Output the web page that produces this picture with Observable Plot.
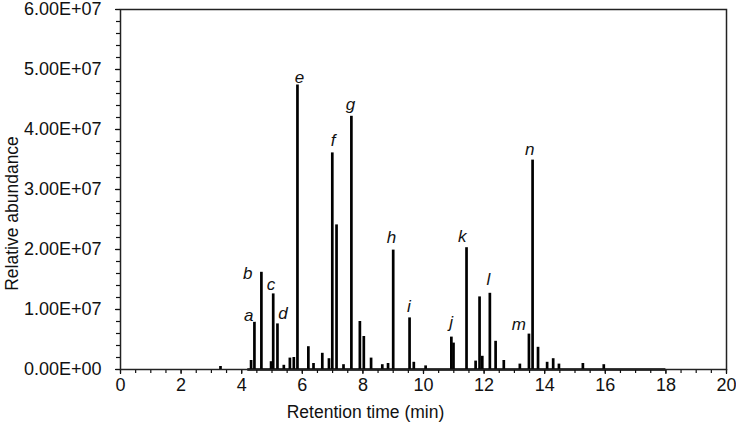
<!DOCTYPE html>
<html>
<head>
<meta charset="utf-8">
<script src="https://cdn.jsdelivr.net/npm/d3@7"></script>
<script src="https://cdn.jsdelivr.net/npm/@observablehq/plot@0.6"></script>
<style>
  html, body { margin: 0; padding: 0; background: #fff; }
</style>
</head>
<body>
<div id="chart"></div>
<script>
// Peak apex retention times (min) and heights (relative abundance)
const peakTimes = [3.30, 4.31, 4.42, 4.65, 4.97, 5.04, 5.18, 5.39, 5.59, 5.72, 5.84, 6.20, 6.37, 6.66, 6.88,
  6.99, 7.13, 7.36, 7.62, 7.90, 8.03, 8.27, 8.64, 8.83, 9.00, 9.54, 9.68, 10.07, 10.92, 10.99,
  11.42, 11.72, 11.85, 11.94, 12.19, 12.38, 12.65, 13.18, 13.48, 13.60, 13.78, 14.08, 14.28, 14.47,
  15.26, 15.95];
const peakHeights = [0.5e6, 1.5e6, 7.86e6, 16.2e6, 1.3e6, 12.6e6, 7.6e6, 0.7e6, 1.9e6, 2.0e6, 47.4e6, 3.8e6, 1.0e6, 2.7e6, 1.8e6,
  36.1e6, 24.1e6, 0.8e6, 42.2e6, 8.0e6, 5.5e6, 1.9e6, 0.8e6, 1.0e6, 19.9e6, 8.6e6, 1.2e6, 0.6e6, 5.4e6, 4.4e6,
  20.3e6, 1.4e6, 12.1e6, 2.2e6, 12.7e6, 4.7e6, 1.5e6, 0.9e6, 5.9e6, 34.9e6, 3.7e6, 1.2e6, 1.8e6, 0.9e6,
  1.0e6, 0.8e6];

// Region of baseline noise (min)
const noiseRange = [4.2, 18.0];

// Peak annotations
const labelLetters = ["a", "b", "c", "d", "e", "f", "g", "h", "i", "j", "k", "l", "m", "n"];
const labelTimes   = [4.23, 4.20, 4.97, 5.36, 5.91, 7.02, 7.59, 8.94, 9.52, 10.91, 11.28, 12.14, 13.15, 13.51];
const labelValues  = [8.97e6, 16.0e6, 14.1e6, 9.26e6, 48.6e6, 38.1e6, 44.2e6, 22.0e6, 10.5e6, 7.86e6, 22.1e6, 15.0e6, 7.56e6, 36.6e6];

// Axis ticks
const xTickValues = [0, 2, 4, 6, 8, 10, 12, 14, 16, 18, 20];
const xTickLabels = ["0", "2", "4", "6", "8", "10", "12", "14", "16", "18", "20"];
const yTickValues = [0, 1e7, 2e7, 3e7, 4e7, 5e7, 6e7];
const yTickLabels = ["0.00E+00", "1.00E+07", "2.00E+07", "3.00E+07", "4.00E+07", "5.00E+07", "6.00E+07"];
const xMinorStep = 0.5;
const yMinorStep = 2e6;

const peaks = peakTimes.map((t, i) => ({time: t, height: peakHeights[i]}));
const labels = labelLetters.map((l, i) => ({letter: l, time: labelTimes[i], value: labelValues[i]}));
const xMinor = d3.range(0, 20 + 1e-9, xMinorStep);
const yMinor = d3.range(0, 6e7 + 1, yMinorStep);

const font = "'Liberation Sans', Arial, Helvetica, sans-serif";

const chart = Plot.plot({
  width: 736,
  height: 433,
  marginLeft: 120,
  marginRight: 10,
  marginTop: 9,
  marginBottom: 64,
  style: {fontFamily: font, fontSize: "18px", color: "#111", background: "#fff"},
  x: {domain: [0, 20], axis: null},
  y: {domain: [0, 6e7], axis: null},
  marks: [
    // minor ticks
    Plot.axisY({ticks: yMinor, tickSize: 4, tickFormat: () => "", label: null, strokeWidth: 1.2}),
    Plot.axisX({ticks: xMinor, tickSize: 4, tickFormat: () => "", label: null, strokeWidth: 1.2}),
    // major ticks with labels
    Plot.axisY({ticks: yTickValues, tickSize: 5, tickPadding: 14, label: null, strokeWidth: 1.2, fontSize: 18,
      tickFormat: d => yTickLabels[yTickValues.indexOf(d)]}),
    Plot.axisX({ticks: xTickValues, tickSize: 5, tickPadding: 4, label: null, strokeWidth: 1.2, fontSize: 18,
      tickFormat: d => xTickLabels[xTickValues.indexOf(d)]}),
    // baseline noise
    Plot.ruleY([0], {x1: noiseRange[0], x2: noiseRange[1], stroke: "#000", strokeWidth: 2.4}),
    // peaks
    Plot.ruleX(peaks, {x: "time", y1: 0, y2: "height", stroke: "#000", strokeWidth: 2.7}),
    // peak letters
    Plot.text(labels, {x: "time", y: "value", text: "letter", fontStyle: "italic", fontSize: 17, fill: "#111"}),
    // axis titles
    Plot.text(["Retention time (min)"], {frameAnchor: "bottom", dx: -58, dy: 48, fontSize: 17.5, fill: "#111"}),
    Plot.text(["Relative abundance"], {frameAnchor: "left", textAnchor: "middle", rotate: -90, dx: -108, dy: 24, fontSize: 17.5, fill: "#111"}),
    Plot.frame({stroke: "#222", strokeWidth: 1.5})
  ]
});

document.getElementById("chart").appendChild(chart);
</script>
</body>
</html>
